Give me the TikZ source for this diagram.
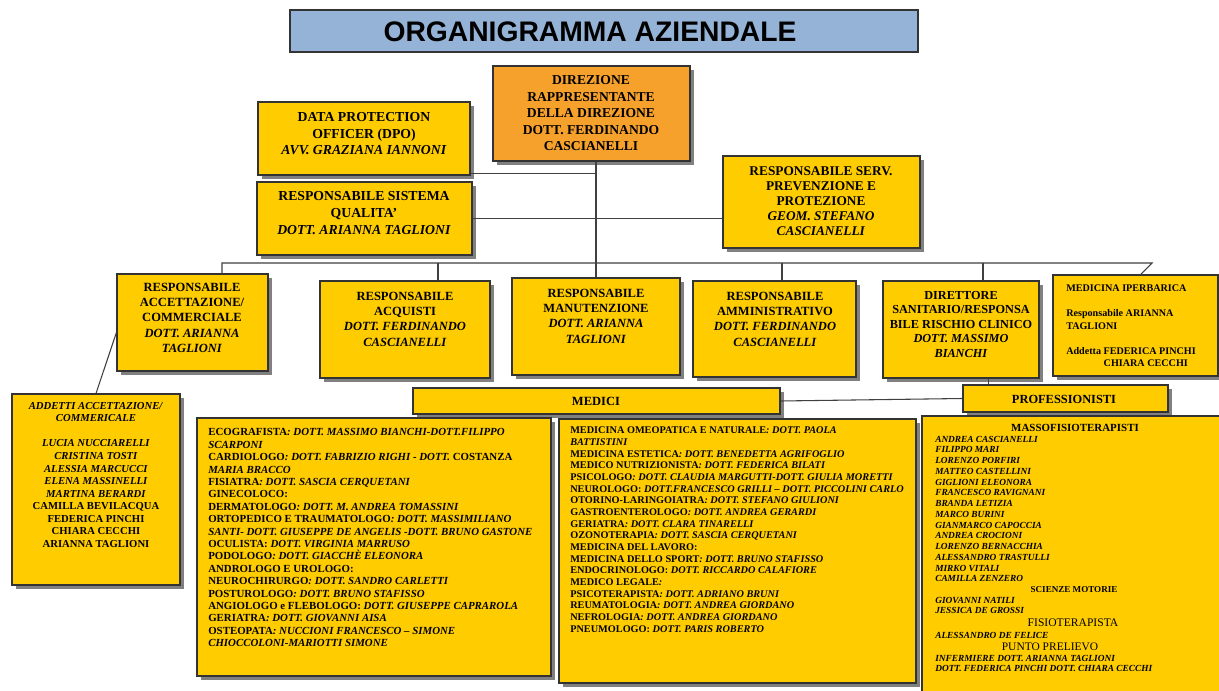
\documentclass[tikz,border=0pt]{standalone}
\usepackage{fontspec}
\setmainfont{Liberation Serif}
\newfontfamily\fTitle{Liberation Sans}
\usetikzlibrary{shadows,fit,calc}
\definecolor{byel}{HTML}{FFCC00}
\definecolor{bora}{HTML}{F7A12D}
\definecolor{bblue}{HTML}{95B3D7}
\definecolor{lgray}{HTML}{404040}
\newcommand\fTop{\bfseries\fontsize{10.2}{12.4}\selectfont}
\newcommand\fRow{\bfseries\fontsize{9.4}{11.4}\selectfont}
\newcommand\fMed{\bfseries\fontsize{8.15}{9.3}\selectfont}
\newcommand\fAdd{\bfseries\fontsize{8.0}{9.4}\selectfont}
\newcommand\fIpe{\bfseries\fontsize{7.6}{9.4}\selectfont}
\newcommand\fNam{\bfseries\itshape\fontsize{7.0}{8.05}\selectfont}
\begin{document}
\begin{tikzpicture}[x=0.75pt,y=-0.75pt,
  ybox/.style={draw=black!80,line width=0.8pt,fill=byel,inner sep=0pt,
    drop shadow={shadow xshift=3pt,shadow yshift=-3pt,fill=black!50,opacity=1}},
  txt/.style={inner sep=0pt,align=center},
  ltxt/.style={inner sep=0pt,align=left},
  conn/.style={draw=lgray,line width=0.8pt}]
\useasboundingbox (0,0) rectangle (1219,691);
\fill[white] (0,0) rectangle (1219,691);

% title
\node[draw=black!80,line width=0.8pt,fill=bblue,inner sep=0pt,fit={(290,10)(918,52)}] (title) {};
\node[txt,font=\fTitle\bfseries\fontsize{21.2}{24}\selectfont] (titletxt) at (590,32) {ORGANIGRAMMA AZIENDALE};

% top level
\node[ybox,fill=bora,fit={(493,66)(690,161)}] (dirz) {};
\node[txt,font=\fTop,anchor=north] (dirzt) at (591,75.5) {DIREZIONE\\RAPPRESENTANTE\\DELLA DIREZIONE\\DOTT. FERDINANDO\\CASCIANELLI};

\node[ybox,fit={(258,102)(470,175)}] (dpo) {};
\node[txt,font=\bfseries\fontsize{10.3}{12.4}\selectfont,anchor=north] (dpot) at (364,112.5) {DATA PROTECTION\\OFFICER (DPO)\\\textit{AVV. GRAZIANA IANNONI}};

\node[ybox,fit={(257,182)(472,255)}] (qual) {};
\node[txt,font=\bfseries\fontsize{10.3}{12.7}\selectfont,anchor=north] (qualt) at (364,191.5) {RESPONSABILE SISTEMA\\QUALITA’\\\textit{DOTT. ARIANNA TAGLIONI}};

\node[ybox,fit={(723,156)(920,248)}] (prev) {};
\node[txt,font=\bfseries\fontsize{10.0}{11.3}\selectfont,anchor=north] (prevt) at (821,166.5) {RESPONSABILE SERV.\\PREVENZIONE E\\PROTEZIONE\\\textit{GEOM. STEFANO}\\\textit{CASCIANELLI}};

% second row
\node[ybox,fit={(117,274)(268,371)}] (acc) {};
\node[txt,font=\fRow,anchor=north] (acct) at (192,283) {RESPONSABILE\\ACCETTAZIONE/\\COMMERCIALE\\\textit{DOTT. ARIANNA}\\\textit{TAGLIONI}};

\node[ybox,fit={(320,281)(490,378)}] (acq) {};
\node[txt,font=\fRow,anchor=north] (acqt) at (405,292) {RESPONSABILE\\ACQUISTI\\\textit{DOTT. FERDINANDO}\\\textit{CASCIANELLI}};

\node[ybox,fit={(512,278)(680,375)}] (man) {};
\node[txt,font=\fRow,anchor=north] (mant) at (596,289) {RESPONSABILE\\MANUTENZIONE\\\textit{DOTT. ARIANNA}\\\textit{TAGLIONI}};

\node[ybox,fit={(693,281)(856,377)}] (amm) {};
\node[txt,font=\fRow,anchor=north] (ammt) at (775,292) {RESPONSABILE\\AMMINISTRATIVO\\\textit{DOTT. FERDINANDO}\\\textit{CASCIANELLI}};

\node[ybox,fit={(883,281)(1039,378)}] (dir) {};
\node[txt,font=\bfseries\fontsize{9.2}{10.9}\selectfont,anchor=north] (dirt) at (961,291) {DIRETTORE\\SANITARIO/RESPONSA\\BILE RISCHIO CLINICO\\\textit{DOTT. MASSIMO}\\\textit{BIANCHI}};

\node[ybox,fit={(1053,275)(1218,376)}] (ipe) {};
\node[ltxt,font=\fIpe,anchor=north west] (ipet) at (1066,284.5) {MEDICINA IPERBARICA\\[9.4pt]Responsabile ARIANNA\\TAGLIONI\\[9.4pt]Addetta FEDERICA PINCHI\\\phantom{Addetta }CHIARA CECCHI};

% addetti
\node[ybox,fit={(12,394)(180,585)}] (add) {};
\node[txt,font=\fAdd,anchor=north] (addt) at (96,402) {\textit{ADDETTI ACCETTAZIONE/}\\\textit{COMMERICALE}\\[9.4pt]\textit{LUCIA NUCCIARELLI}\\\textit{CRISTINA TOSTI}\\\textit{ALESSIA MARCUCCI}\\\textit{ELENA MASSINELLI}\\\textit{MARTINA BERARDI}\\CAMILLA BEVILACQUA\\FEDERICA PINCHI\\CHIARA CECCHI\\ARIANNA TAGLIONI};

% medici / professionisti headers
\node[ybox,fit={(413,388)(780,414)}] (med) {};
\node[txt,font=\bfseries\fontsize{9.4}{11}\selectfont] (medt) at (596,401) {MEDICI};
\node[ybox,fit={(963,385)(1168,412)}] (prof) {};
\node[txt,font=\bfseries\fontsize{9.3}{11}\selectfont] (proft) at (1064,399) {PROFESSIONISTI};

% medici boxes
\node[ybox,fit={(197,418)(551,676)}] (medL) {};
\node[ltxt,font=\fMed,anchor=north west] (medLt) at (208,428.5) {%
ECOGRAFISTA\textit{: DOTT. MASSIMO BIANCHI-DOTT.FILIPPO}\\
\textit{SCARPONI}\\
CARDIOLOGO\textit{: DOTT. FABRIZIO RIGHI - DOTT.} COSTANZA\\
\textit{MARIA BRACCO}\\
FISIATRA\textit{: DOTT. SASCIA CERQUETANI}\\
GINECOLOCO:\\
DERMATOLOGO\textit{: DOTT. M. ANDREA TOMASSINI}\\
ORTOPEDICO E TRAUMATOLOGO\textit{: DOTT. MASSIMILIANO}\\
\textit{SANTI- DOTT. GIUSEPPE DE ANGELIS -DOTT. BRUNO GASTONE}\\
OCULISTA: \textit{DOTT. VIRGINIA MARRUSO}\\
PODOLOGO\textit{: DOTT. GIACCHÈ ELEONORA}\\
ANDROLOGO E UROLOGO:\\
NEUROCHIRURGO\textit{: DOTT. SANDRO CARLETTI}\\
POSTUROLOGO\textit{: DOTT. BRUNO STAFISSO}\\
ANGIOLOGO e FLEBOLOGO: \textit{DOTT. GIUSEPPE CAPRAROLA}\\
GERIATRA\textit{: DOTT. GIOVANNI AISA}\\
OSTEOPATA\textit{: NUCCIONI FRANCESCO -- SIMONE}\\
\textit{CHIOCCOLONI-MARIOTTI SIMONE}};

\node[ybox,fit={(559,419)(916,683)}] (medR) {};
\node[ltxt,font=\bfseries\fontsize{7.7}{8.75}\selectfont,anchor=north west] (medRt) at (570,426.8) {%
MEDICINA OMEOPATICA E NATURALE\textit{: DOTT. PAOLA}\\
\textit{BATTISTINI}\\
MEDICINA ESTETICA\textit{: DOTT. BENEDETTA AGRIFOGLIO}\\
MEDICO NUTRIZIONISTA\textit{: DOTT. FEDERICA BILATI}\\
PSICOLOGO\textit{: DOTT. CLAUDIA MARGUTTI-DOTT. GIULIA MORETTI}\\
NEUROLOGO: \textit{DOTT.FRANCESCO GRILLI -- DOTT. PICCOLINI CARLO}\\
OTORINO-LARINGOIATRA\textit{: DOTT. STEFANO GIULIONI}\\
GASTROENTEROLOGO\textit{: DOTT. ANDREA GERARDI}\\
GERIATRA\textit{: DOTT. CLARA TINARELLI}\\
OZONOTERAPIA\textit{: DOTT. SASCIA CERQUETANI}\\
MEDICINA DEL LAVORO:\\
MEDICINA DELLO SPORT\textit{: DOTT. BRUNO STAFISSO}\\
ENDOCRINOLOGO: \textit{DOTT. RICCARDO CALAFIORE}\\
MEDICO LEGALE\textit{:}\\
PSICOTERAPISTA\textit{: DOTT. ADRIANO BRUNI}\\
REUMATOLOGIA\textit{: DOTT. ANDREA GIORDANO}\\
NEFROLOGIA\textit{: DOTT. ANDREA GIORDANO}\\
PNEUMOLOGO: \textit{DOTT. PARIS ROBERTO}};

% professionisti box
\node[ybox,fit={(922,416)(1226,698)}] (profB) {};
\node[txt,font=\bfseries\fontsize{8.2}{9}\selectfont] (massot) at (1075,428) {MASSOFISIOTERAPISTI};
\node[ltxt,font=\fNam,anchor=north west] (namesA) at (935,435.8) {ANDREA CASCIANELLI\\FILIPPO MARI\\LORENZO PORFIRI\\MATTEO CASTELLINI\\GIGLIONI ELEONORA\\FRANCESCO RAVIGNANI\\BRANDA LETIZIA\\MARCO BURINI\\GIANMARCO CAPOCCIA\\ANDREA CROCIONI\\LORENZO BERNACCHIA\\ALESSANDRO TRASTULLI\\MIRKO VITALI\\CAMILLA ZENZERO};
\node[txt,font=\bfseries\fontsize{6.8}{8}\selectfont] (scit) at (1074,590) {SCIENZE MOTORIE};
\node[ltxt,font=\fNam,anchor=north west] (namesB) at (935,596.8) {GIOVANNI NATILI\\JESSICA DE GROSSI};
\node[txt,font=\fontsize{8.7}{9}\selectfont] (fisiot) at (1073,623) {FISIOTERAPISTA};
\node[ltxt,font=\fNam,anchor=west] (namesC) at (935,635) {ALESSANDRO DE FELICE};
\node[txt,font=\fontsize{8.6}{9}\selectfont] (puntot) at (1050,647) {PUNTO PRELIEVO};
\node[ltxt,font=\fNam,anchor=north west] (namesD) at (935,654.8) {INFERMIERE DOTT. ARIANNA TAGLIONI\\DOTT. FEDERICA PINCHI DOTT. CHIARA CECCHI};

% connectors
\coordinate (bL) at (222,263);
\coordinate (bR) at (1152,263);
\coordinate (dAcq) at (438,263);
\coordinate (dAmm) at (782,263);
\coordinate (dDir) at (983,263);
\coordinate (ipeT) at (1140,275);
\draw[conn] (dirz.south -| man.north) -- (man.north);
\draw[conn] ([yshift=1.5pt]dpo.south east) -- ([yshift=1.5pt]dpo.south east -| man.north);
\draw[conn] (qual.east) -- (qual.east -| prev.west);
\draw[conn] (bL |- acc.north) -- (bL) -- (bR) -- (ipeT);
\draw[conn] (dAcq) -- (dAcq |- acq.north);
\draw[conn] (dAmm) -- (dAmm |- amm.north);
\draw[conn] (dDir) -- (dDir |- dir.north);
\draw[conn] ($(acc.north west)!0.6!(acc.south west)$) -- ($(add.north west)!0.5!(add.north east)$);
\coordinate (dS) at ($(dir.south west)!0.673!(dir.south east)$);
\draw[conn] (dS) -- (dS |- prof.north);
\draw[conn] (med.east) -- (prof.west);
\end{tikzpicture}
\end{document}
